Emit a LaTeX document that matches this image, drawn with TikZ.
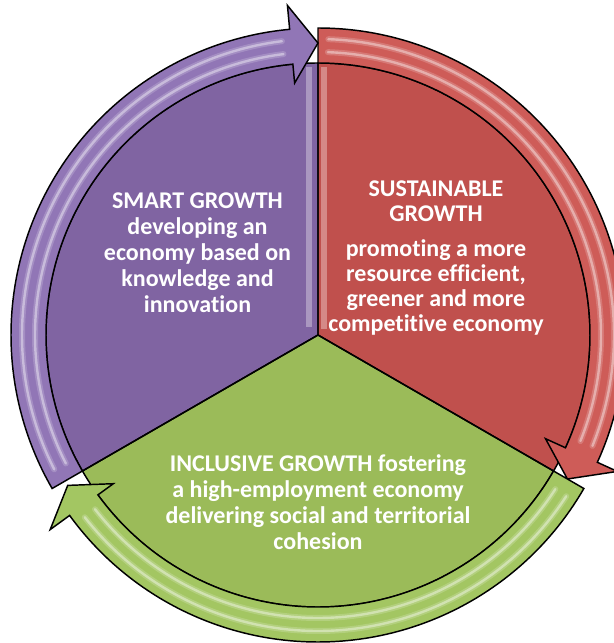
\documentclass[tikz,border=0pt]{standalone}
\usepackage{fontspec}
\setmainfont{Carlito}[Ligatures=NoCommon]
\definecolor{purpPie}{RGB}{128,100,162}
\definecolor{purpBand}{RGB}{145,118,182}
\definecolor{redPie}{RGB}{192,80,77}
\definecolor{redBand}{RGB}{206,92,88}
\definecolor{grnPie}{RGB}{155,187,89}
\definecolor{grnBand}{RGB}{163,198,98}
\tikzset{
  pieedge/.style={draw=black, line width=1.1pt, line join=round},
  bandedge/.style={draw=black, line width=1.1pt, line join=miter},
  glosswide/.style={draw=white, line width=4.5pt, opacity=0.18, line cap=round},
  gloss/.style={draw=white, line width=1.8pt, opacity=0.4, line cap=round},
  txt/.style={text=white, font=\bfseries\fontsize{18}{19.5}\selectfont, align=center, inner sep=0pt}
}
\begin{document}
\begin{tikzpicture}[x=0.75pt,y=0.75pt]
\useasboundingbox (0,0) rectangle (614,643);
\coordinate (C) at (318,308);
\begin{scope}[shift={(318,308)}]
  % pie sectors
  \fill[purpPie] (0,0) -- (90:272) arc[start angle=90,end angle=210,radius=272] -- cycle;
  \fill[redPie] (0,0) -- (-30:272) arc[start angle=-30,end angle=90,radius=272] -- cycle;
  \fill[grnPie] (0,0) -- (210:272) arc[start angle=210,end angle=330,radius=272] -- cycle;
  % bevel highlights along the top divider
  \draw[purpPie!45!white, line width=5pt, opacity=0.6] (-9,8) -- (-9,268);
  \draw[redPie!45!white, line width=4pt, opacity=0.6] (6,6) -- (6,268);
  % pie outlines
  \draw[pieedge] (0,0) -- (90:272) arc[start angle=90,end angle=210,radius=272] -- cycle;
  \draw[pieedge] (0,0) -- (-30:272) arc[start angle=-30,end angle=90,radius=272] -- cycle;
  \draw[pieedge] (0,0) -- (210:272) arc[start angle=210,end angle=330,radius=272] -- cycle;
  % ring arrows
  \filldraw[fill=redBand, bandedge] (90:307) arc[start angle=90,end angle=-24.5,radius=307]
     -- (-24.5:329) -- (-30:288) -- (-24.5:250) -- (-24.5:272)
     arc[start angle=-24.5,end angle=90,radius=272] -- cycle;
  \filldraw[fill=grnBand, bandedge] (-30:307) arc[start angle=-30,end angle=-144,radius=307]
     -- (-144:331) -- (-149:292) -- (-144:253) -- (-144:272)
     arc[start angle=-144,end angle=-30,radius=272] -- cycle;
  \filldraw[fill=purpBand, bandedge] (210:307) arc[start angle=210,end angle=95.3,radius=307]
     -- (95.3:331) -- (90:292) -- (95.3:253) -- (95.3:272)
     arc[start angle=95.3,end angle=210,radius=272] -- cycle;
  % gloss stripes
  \foreach \s in {glosswide,gloss}{
    \draw[\s] (88:283) arc[start angle=88,end angle=-22,radius=283];
    \draw[\s] (88:296) arc[start angle=88,end angle=-22,radius=296];
    \draw[\s] (-33:283) arc[start angle=-33,end angle=-142,radius=283];
    \draw[\s] (-33:296) arc[start angle=-33,end angle=-142,radius=296];
    \draw[\s] (207:283) arc[start angle=207,end angle=97,radius=283];
    \draw[\s] (207:296) arc[start angle=207,end angle=97,radius=296];
  }
\end{scope}
% texts
\node[txt] (smart) at (197.5,390) {SMART GROWTH\\developing an\\economy based on\\knowledge and\\innovation};
\node[txt, font=\bfseries\fontsize{18}{18.8}\selectfont] (sust) at (436,385) {SUSTAINABLE\\GROWTH\\[7pt]promoting a more\\resource efficient,\\greener and more\\competitive economy};
\node[txt] (incl) at (318,141) {INCLUSIVE GROWTH fostering\\a high-employment economy\\delivering social and territorial\\cohesion};
\end{tikzpicture}
\end{document}
